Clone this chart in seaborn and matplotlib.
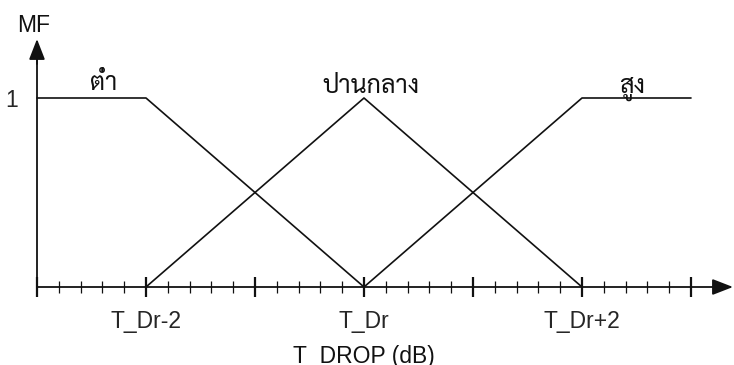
import matplotlib
matplotlib.use("Agg")
import matplotlib.pyplot as plt
import pandas as pd
import seaborn as sns

# Membership functions of T_DROP (breakpoints in units relative to T_Dr)
set_names = ["ต่ำ", "ปานกลาง", "สูง"]
low_x = [-3, -2, 0]
low_mu = [1, 1, 0]
mid_x = [-2, 0, 2]
mid_mu = [0, 1, 0]
high_x = [0, 2, 3]
high_mu = [0, 1, 1]

major_ticks = [-3, -2, -1, 0, 1, 2, 3]
major_labels = ["", "T_Dr-2", "", "T_Dr", "", "T_Dr+2", ""]
minor_step = 0.2
x_title = "T_DROP (dB)"
y_title = "MF"

sns.set_style("white")
plt.rcParams["font.family"] = ["Liberation Sans", "DejaVu Sans"]
THAI = "Sarabun"
INK = "#111111"

df = pd.concat([
    pd.DataFrame({"x": low_x, "mu": low_mu, "set": set_names[0]}),
    pd.DataFrame({"x": mid_x, "mu": mid_mu, "set": set_names[1]}),
    pd.DataFrame({"x": high_x, "mu": high_mu, "set": set_names[2]}),
])

fig = plt.figure(figsize=(7.34, 3.65), dpi=100)
ax = fig.add_axes([0, 0, 1, 1])
ax.set_facecolor("white")

sns.lineplot(data=df, x="x", y="mu", hue="set", units="set", estimator=None,
             sort=False, palette={n: INK for n in set_names}, legend=False,
             lw=1.2, ax=ax)

ax.set_xlim(-3.3394, 3.3945)
ax.set_ylim(-0.4127, 1.5185)
ax.set_xlabel("")
ax.set_ylabel("")

# Axes drawn through the origin, with arrow heads
for s in ("top", "right"):
    ax.spines[s].set_visible(False)
ax.spines["left"].set_position(("data", -3))
ax.spines["bottom"].set_position(("data", 0))
ax.spines["left"].set_bounds(0, 1.22)
ax.spines["bottom"].set_bounds(-3, 3.30)
for s in ("left", "bottom"):
    ax.spines[s].set_color(INK)
    ax.spines[s].set_linewidth(1.3)

arrow = dict(arrowstyle="-|>,head_length=0.9,head_width=0.35", color=INK,
             lw=1.3, shrinkA=0, shrinkB=0, mutation_scale=14)
ax.annotate("", xy=(3.385, 0), xytext=(3.25, 0), arrowprops=arrow)
ax.annotate("", xy=(-3, 1.312), xytext=(-3, 1.18), arrowprops=arrow)

# x ticks: long major ticks, short minor ticks
ax.set_xticks(major_ticks)
ax.set_xticklabels(major_labels)
minor = [t / 10 for t in range(-30, 31, int(minor_step * 10))]
ax.set_xticks([m for m in minor if m not in major_ticks], minor=True)
ax.tick_params(axis="x", which="major", direction="inout", length=15,
               width=1.6, color=INK, labelsize=16.5, pad=9, bottom=True)
ax.tick_params(axis="x", which="minor", direction="inout", length=8,
               width=0.9, color=INK, bottom=True)

ax.set_yticks([1])
ax.set_yticklabels(["1"])
ax.tick_params(axis="y", which="major", length=0, labelsize=16.5, pad=14, left=True)
for t in ax.get_yticklabels():
    t.set_va("center_baseline")

ax.text(-3.0275, 1.386, y_title, ha="center", va="center", fontsize=16.5, color=INK)
ax.text(0, -0.402, x_title, ha="center", va="baseline", fontsize=16.5, color=INK)

# Linguistic labels above each membership function
ax.text(-2.385, 1.042, set_names[0], ha="center", va="baseline",
        fontsize=18, family=THAI, color=INK)
ax.text(0.064, 1.026, set_names[1], ha="center", va="baseline",
        fontsize=18, family=THAI, color=INK)
ax.text(2.459, 1.026, set_names[2], ha="center", va="baseline",
        fontsize=18, family=THAI, color=INK)

fig.savefig("out.png", dpi=100, facecolor="white")
